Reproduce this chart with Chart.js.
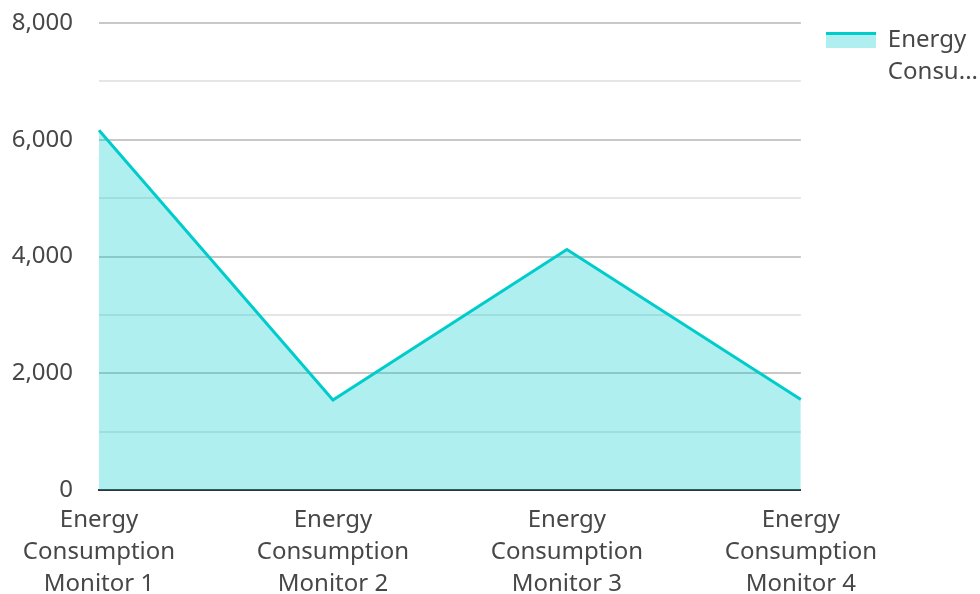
<!DOCTYPE html>
<html lang="en">

<head>
    <meta charset="UTF-8">
    <title>Energy Consumption</title>
    <script src="https://cdn.jsdelivr.net/npm/chart.js"></script>
    <style>
        html, body { margin: 0; padding: 0; background: #fff; }
        .chartbox { width: 980px; height: 594px; }
    </style>
</head>

<body>

<div class="chartbox">
    <canvas id="myChart"></canvas>
</div>

<script>
    //data
    const categories = [
        ['Energy', 'Consumption', 'Monitor 1'],
        ['Energy', 'Consumption', 'Monitor 2'],
        ['Energy', 'Consumption', 'Monitor 3'],
        ['Energy', 'Consumption', 'Monitor 4']
    ];
    const seriesName = 'Energy Consumption';
    const legendText = ['Energy', 'Consu...'];
    const energyValues = [6165, 1545, 4120, 1555];
    const yTicks = [0, 2000, 4000, 6000, 8000];

    const lineColor = '#00cccc';
    const fillColor = 'rgba(0, 204, 204, 0.31)';
    const textColor = '#474747';

    // legend swatch: line on top, fill below
    const swatch = document.createElement('canvas');
    swatch.width = 50;
    swatch.height = 16;
    const sctx = swatch.getContext('2d');
    sctx.fillStyle = fillColor;
    sctx.fillRect(0, 3, 50, 13);
    sctx.fillStyle = lineColor;
    sctx.fillRect(0, 0, 50, 3);

    //setup
    const data = {
        labels: categories,
        datasets: [{
            label: seriesName,
            data: energyValues,
            borderColor: lineColor,
            backgroundColor: fillColor,
            borderWidth: 3,
            pointRadius: 0,
            tension: 0,
            fill: 'origin'
        }]
    };

    //config
    const config = {
        type: 'line',
        data: data,
        options: {
            responsive: true,
            maintainAspectRatio: false,
            animation: false,
            layout: { padding: { top: -11, right: -8, left: 0, bottom: -20 } },
            plugins: {
                tooltip: { enabled: false },
                legend: {
                    position: 'right',
                    align: 'start',
                    title: { display: true, text: '', padding: 0, font: { size: 10, lineHeight: 1.4 } },
                    labels: {
                        usePointStyle: true,
                        pointStyleWidth: 50,
                        color: textColor,
                        padding: 25,
                        font: { family: 'Noto Sans', size: 24, lineHeight: 1.33 },
                        generateLabels: function (chart) {
                            return [{
                                text: legendText,
                                pointStyle: swatch,
                                fontColor: textColor,
                                lineWidth: 0,
                                datasetIndex: 0
                            }];
                        }
                    }
                }
            },
            scales: {
                x: {
                    offset: false,
                    grid: { display: false, drawTicks: false },
                    border: { display: true, color: '#333333', width: 2 },
                    ticks: {
                        color: textColor,
                        padding: 14,
                        maxRotation: 0,
                        autoSkip: false,
                        font: { family: 'Noto Sans', size: 24, lineHeight: 1.33 }
                    }
                },
                y: {
                    min: 0,
                    max: 8000,
                    border: { display: false },
                    afterFit: function (scale) {
                        scale.width = 99;
                        scale.paddingTop = 23;
                        scale.paddingBottom = 0;
                    },
                    grid: {
                        drawTicks: false,
                        lineWidth: 2,
                        color: function (c) {
                            return yTicks.includes(c.tick.value) ? '#c8c8c8' : '#e6e6e6';
                        }
                    },
                    ticks: {
                        stepSize: 1000,
                        padding: 26,
                        color: textColor,
                        font: { family: 'Noto Sans', size: 24 },
                        callback: function (value) {
                            return yTicks.includes(value) ? value.toLocaleString('en-US') : '';
                        }
                    }
                }
            }
        }
    };

    //render
    const linechart = new Chart(
        document.getElementById('myChart'),
        config
    );
</script>

</body>
</html>
